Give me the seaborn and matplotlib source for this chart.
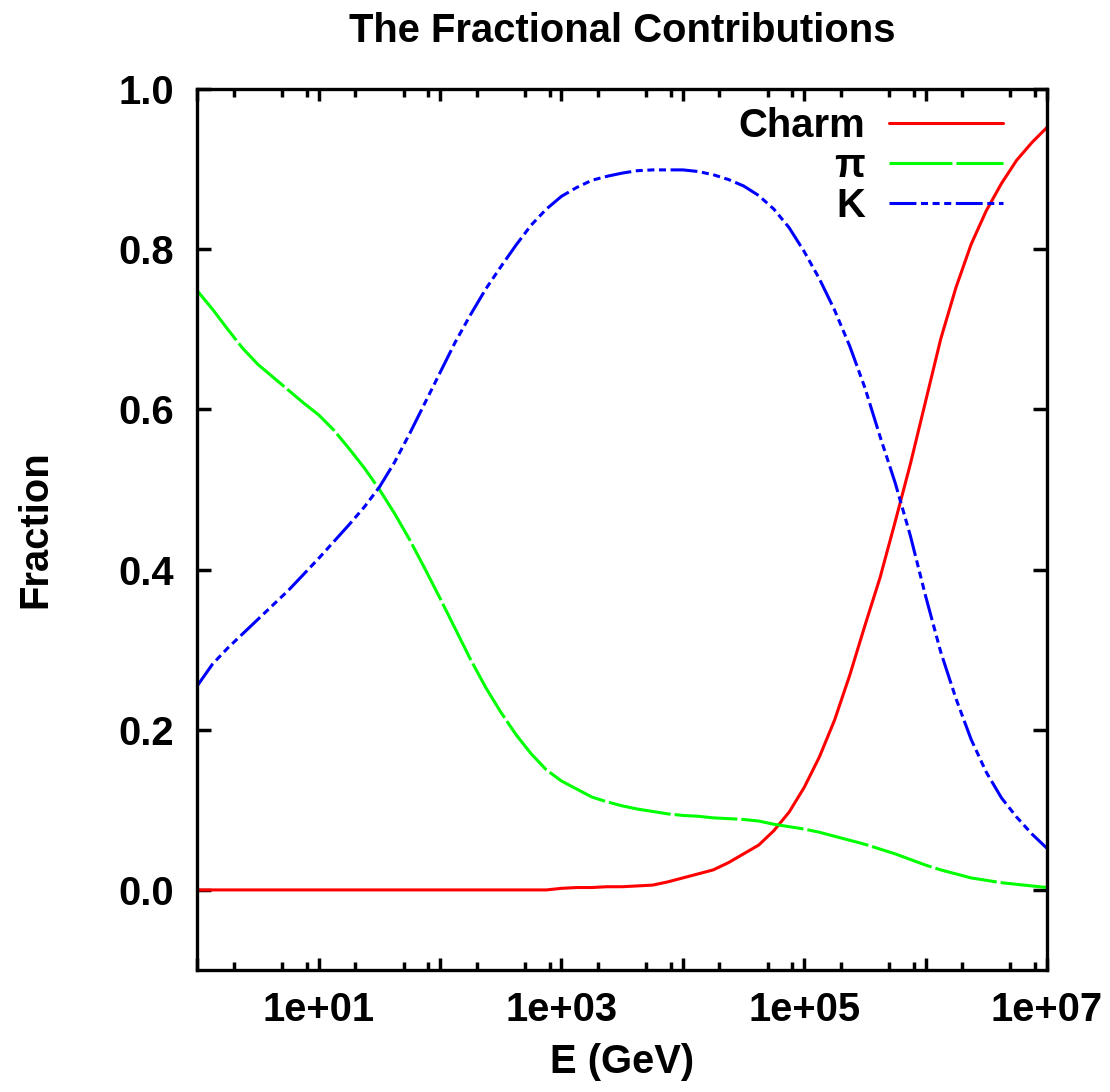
import matplotlib
matplotlib.use('Agg')
import matplotlib.pyplot as plt
import matplotlib.ticker as mticker
import numpy as np
import pandas as pd
import seaborn as sns

# Datos: log10(E/GeV) y fracción de cada componente
log_e = [0.0, 0.125, 0.25, 0.375, 0.5, 0.625, 0.75, 0.875,
         1.0, 1.125, 1.25, 1.375, 1.5, 1.625, 1.75, 1.875,
         2.0, 2.125, 2.25, 2.375, 2.5, 2.625, 2.75, 2.875,
         3.0, 3.125, 3.25, 3.375, 3.5, 3.625, 3.75, 3.875,
         4.0, 4.125, 4.25, 4.375, 4.5, 4.625, 4.75, 4.875,
         5.0, 5.125, 5.25, 5.375, 5.5, 5.625, 5.75, 5.875,
         6.0, 6.125, 6.25, 6.375, 6.5, 6.625, 6.75, 6.875,
         7.0]
charm = [0.0, 0.0, 0.0, 0.0, 0.0, 0.0, 0.0, 0.0,
         0.0, 0.0, 0.0, 0.0, 0.0, 0.0, 0.0, 0.0,
         0.0, 0.0, 0.0, 0.0, 0.0, 0.0, 0.0, 0.0,
         0.002, 0.003, 0.003, 0.004, 0.004, 0.005, 0.006, 0.010,
         0.015, 0.020, 0.025, 0.034, 0.045, 0.056, 0.074, 0.097,
         0.128, 0.166, 0.212, 0.268, 0.330, 0.390, 0.460, 0.532,
         0.610, 0.688, 0.752, 0.806, 0.848, 0.882, 0.911, 0.933,
         0.952]
pion = [0.748, 0.725, 0.700, 0.676, 0.656, 0.640, 0.624, 0.608,
        0.593, 0.574, 0.551, 0.527, 0.500, 0.470, 0.437, 0.401,
        0.364, 0.326, 0.288, 0.253, 0.222, 0.194, 0.170, 0.150,
        0.136, 0.126, 0.116, 0.110, 0.105, 0.101, 0.098, 0.095,
        0.093, 0.092, 0.090, 0.089, 0.088, 0.086, 0.082, 0.079,
        0.076, 0.072, 0.067, 0.062, 0.057, 0.051, 0.045, 0.038,
        0.031, 0.025, 0.020, 0.015, 0.012, 0.009, 0.007, 0.005,
        0.003]
kaon = [0.255, 0.282, 0.302, 0.320, 0.338, 0.356, 0.374, 0.394,
        0.414, 0.435, 0.456, 0.478, 0.503, 0.534, 0.570, 0.608,
        0.646, 0.684, 0.718, 0.750, 0.778, 0.805, 0.830, 0.850,
        0.866, 0.877, 0.886, 0.891, 0.895, 0.898, 0.899, 0.899,
        0.899, 0.897, 0.893, 0.887, 0.879, 0.867, 0.850, 0.827,
        0.797, 0.763, 0.724, 0.679, 0.627, 0.566, 0.508, 0.442,
        0.367, 0.297, 0.239, 0.188, 0.147, 0.115, 0.091, 0.070,
        0.052]

componentes = ['Charm', 'π', 'K']
colores = ['#ff0000', '#00ff00', '#0000ff']
estilos = ['', (20.6, 1.3), (8.8, 1.5, 2.3, 1.5, 2.3, 1.5, 2.3, 1.5)]

x_decadas = [1, 10, 100, 1e3, 1e4, 1e5, 1e6, 1e7]
x_etiquetas = ['', '1e+01', '', '1e+03', '', '1e+05', '', '1e+07']
y_ticks = [0.0, 0.2, 0.4, 0.6, 0.8, 1.0]

# Configuración de estilo
sns.set_theme(style='ticks')
plt.rcParams['font.family'] = ['Liberation Sans', 'DejaVu Sans']
plt.rcParams['font.weight'] = 'bold'
plt.rcParams['axes.labelweight'] = 'bold'
plt.rcParams['axes.titleweight'] = 'bold'
plt.rcParams['text.color'] = 'black'
plt.rcParams['axes.labelcolor'] = 'black'
plt.rcParams['xtick.color'] = 'black'
plt.rcParams['ytick.color'] = 'black'
FS = 28.8

energia = 10 ** np.array(log_e)
n = len(log_e)
df = pd.DataFrame({
    'E': np.concatenate([energia, energia, energia]),
    'Fraccion': charm + pion + kaon,
    'Componente': [componentes[0]] * n + [componentes[1]] * n + [componentes[2]] * n,
})

fig = plt.figure(figsize=(11.1, 10.92), dpi=100)
ax = fig.add_axes([0.1778, 0.1117, 0.7654, 0.8068])

sns.lineplot(data=df, x='E', y='Fraccion', hue='Componente', style='Componente',
             hue_order=componentes, style_order=componentes,
             palette=dict(zip(componentes, colores)),
             dashes=dict(zip(componentes, estilos)),
             linewidth=2.2, errorbar=None, ax=ax)

ax.set_xscale('log')
ax.set_xlim(1, 1e7)
ax.set_ylim(-0.1, 1.0)

ax.xaxis.set_major_locator(mticker.FixedLocator(x_decadas))
ax.xaxis.set_major_formatter(mticker.FixedFormatter(x_etiquetas))
ax.xaxis.set_minor_locator(mticker.LogLocator(base=10, subs=(2, 5, 8), numticks=20))
ax.xaxis.set_minor_formatter(mticker.NullFormatter())
ax.yaxis.set_major_locator(mticker.FixedLocator(y_ticks))
ax.yaxis.set_major_formatter(mticker.FormatStrFormatter('%.1f'))
ax.yaxis.set_minor_locator(mticker.NullLocator())

ax.tick_params(axis='both', which='both', direction='in', top=True, right=True,
               width=2.5, colors='black', labelsize=FS)
ax.tick_params(axis='x', which='major', length=8.6, pad=15)
ax.tick_params(axis='x', which='minor', length=5.8)
ax.tick_params(axis='y', which='major', length=10, pad=17)
for s in ax.spines.values():
    s.set_linewidth(2.4)
    s.set_color('black')

ax.set_title('The Fractional Contributions', fontsize=FS, pad=34)
ax.set_xlabel('E (GeV)', fontsize=FS)
ax.set_ylabel('Fraction', fontsize=FS)
ax.xaxis.set_label_coords(0.5, -0.083)
ax.yaxis.set_label_coords(-0.168, 0.5)

handles, labels = ax.get_legend_handles_labels()
if ax.get_legend() is not None:
    ax.get_legend().remove()
leg = ax.legend(handles, labels, loc='upper right', bbox_to_anchor=(0.948, 0.979),
                markerfirst=False, frameon=False, handlelength=2.85, handletextpad=0.6,
                labelspacing=0.05, borderpad=0, borderaxespad=0, fontsize=FS)
for h in leg.legend_handles:
    h.set_linewidth(2.2)

fig.savefig('out.png', dpi=100, facecolor='white')
